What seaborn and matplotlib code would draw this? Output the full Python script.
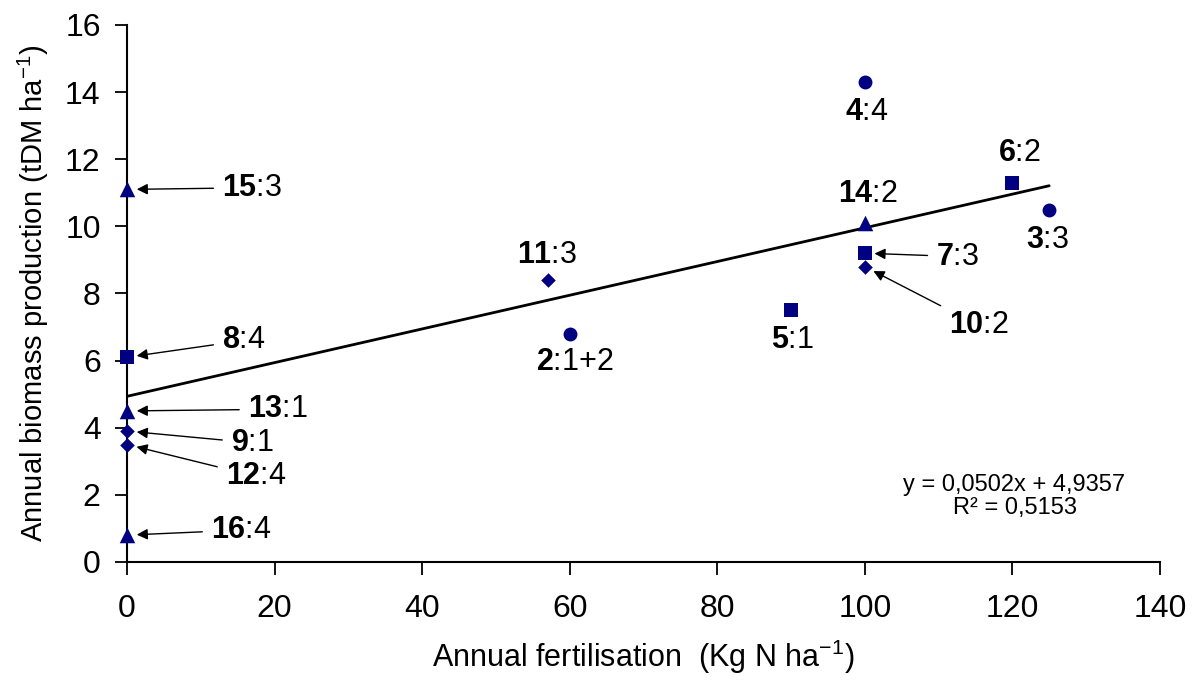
import numpy as np
import pandas as pd
import matplotlib
matplotlib.use('Agg')
import matplotlib.pyplot as plt
import seaborn as sns

# data
site = ['15', '8', '13', '9', '12', '16', '11', '2', '5', '4', '14', '7', '10', '6', '3']
suffix = ['3', '4', '1', '1', '4', '4', '3', '1+2', '1', '4', '2', '3', '2', '2', '3']
fert = [0, 0, 0, 0, 0, 0, 57, 60, 90, 100, 100, 100, 100, 120, 125]
biomass = [11.1, 6.1, 4.5, 3.9, 3.5, 0.8, 8.4, 6.8, 7.5, 14.3, 10.1, 9.2, 8.8, 11.3, 10.5]
group = ['tri', 'sq', 'tri', 'dia', 'dia', 'tri', 'dia', 'circ', 'sq', 'circ',
         'tri', 'sq', 'dia', 'sq', 'circ']

# label placement (data coords of the text) and whether an arrow is drawn
lab_x = [12.9, 12.9, 16.4, 14.1, 13.4, 11.4, 56.9, 60.7, 90.2, 100.3, 100.4, 109.7, 111.4, 121.0, 124.8]
lab_y = [11.15, 6.6, 4.55, 3.55, 2.55, 0.95, 9.15, 5.95, 6.6, 13.4, 10.95, 9.1, 7.05, 12.2, 9.6]
arrow = [True, True, True, True, True, True, False, False, False, False, False, True, True, False, False]

eq_text = 'y = 0,0502x + 4,9357\nR² = 0,5153'

marker_of = {'circ': 'o', 'sq': 's', 'tri': '^', 'dia': 'D'}
size_of = {'circ': 100, 'sq': 100, 'tri': 125, 'dia': 55}

df = pd.DataFrame({'fert': fert, 'biomass': biomass, 'group': group})

sns.set_style('white')
plt.rcParams['font.family'] = ['Liberation Sans', 'DejaVu Sans']
plt.rcParams['text.color'] = 'black'
plt.rcParams['axes.labelcolor'] = 'black'
plt.rcParams['xtick.color'] = 'black'
plt.rcParams['ytick.color'] = 'black'
plt.rcParams['mathtext.fontset'] = 'custom'
plt.rcParams['mathtext.rm'] = 'Liberation Sans'
plt.rcParams['mathtext.bf'] = 'Liberation Sans:bold'
plt.rcParams['mathtext.it'] = 'Liberation Sans:italic'

fig = plt.figure(figsize=(11.94, 6.86), dpi=100)
ax = fig.add_axes([0.1064, 0.1808, 0.865, 0.7828])

navy = '#000080'
sns.regplot(data=df, x='fert', y='biomass', scatter=False, ci=None,
            color='black', line_kws={'lw': 2}, ax=ax)
for g, m in marker_of.items():
    sub = df[df['group'] == g]
    sns.scatterplot(data=sub, x='fert', y='biomass', marker=m, color=navy,
                    edgecolor=navy, linewidth=0, s=size_of[g], legend=False,
                    ax=ax, zorder=5, clip_on=False)

for i in range(len(site)):
    txt = r'$\mathbf{' + site[i] + '}$:' + suffix[i]
    if arrow[i]:
        ax.annotate(txt, xy=(fert[i], biomass[i]), xytext=(lab_x[i], lab_y[i]),
                    ha='left', va='center', fontsize=22,
                    arrowprops=dict(arrowstyle='-|>', color='black', lw=1,
                                    shrinkA=4, shrinkB=7, mutation_scale=16))
    else:
        ax.text(lab_x[i], lab_y[i], txt, ha='center', va='center', fontsize=22)

ax.text(120.3, 1.95, eq_text, ha='center', va='center', fontsize=17,
        linespacing=1.05)

ax.set_xlim(0, 140)
ax.set_ylim(0, 16)
ax.set_xticks(np.arange(0, 141, 20))
ax.set_yticks(np.arange(0, 17, 2))
sns.despine(ax=ax)
for s in ['left', 'bottom']:
    ax.spines[s].set_color('black')
    ax.spines[s].set_linewidth(1.5)
ax.tick_params(axis='both', direction='out', length=9, width=1.3,
               color='black', labelsize=23, left=True, bottom=True)
ax.tick_params(axis='x', pad=14)
ax.tick_params(axis='y', pad=10)

ax.set_xlabel('Annual fertilisation  (Kg N ha$^{-1}$)', fontsize=22, labelpad=10)
ax.set_ylabel('Annual biomass production (tDM ha$^{-1}$)', fontsize=21, labelpad=10)

fig.savefig('out.png', dpi=100)
